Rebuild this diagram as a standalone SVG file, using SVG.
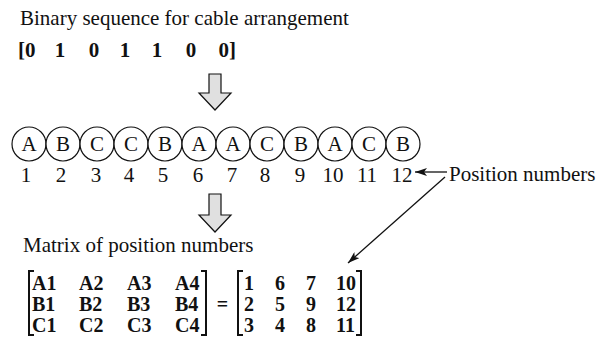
<svg xmlns="http://www.w3.org/2000/svg" width="610" height="337" viewBox="0 0 610 337">
<style>
text{font-family:"Liberation Serif","Times New Roman",serif;fill:#111}
.t{font-size:21px}
.b{font-size:21px;font-weight:bold}
.m{font-size:20px;font-weight:bold}
.c{text-anchor:middle}
.cir{fill:#fff;stroke:#111;stroke-width:1.2}
.big{fill:#e0e0e0;stroke:#111;stroke-width:1.2;stroke-linejoin:miter}
.br{fill:none;stroke:#111;stroke-width:2}
.ln{fill:none;stroke:#111;stroke-width:1.3}
</style>
<defs>
<marker id="ah" viewBox="0 0 12 8" refX="12" refY="4" markerWidth="12" markerHeight="8" markerUnits="userSpaceOnUse" orient="auto">
<path d="M0,0 L12,4 L0,8 L3,4 z" fill="#111"/>
</marker>
</defs>
<g id="title"><text class="t" x="20" y="25">Binary sequence for cable arrangement</text></g>
<g id="sequence">
<text class="b" x="18" y="57">[0</text>
<text class="b c" x="60" y="57">1</text>
<text class="b c" x="94" y="57">0</text>
<text class="b c" x="125" y="57">1</text>
<text class="b c" x="157" y="57">1</text>
<text class="b c" x="191" y="57">0</text>
<text class="b" x="218.5" y="57">0]</text>
</g>
<g id="arrow1"><path class="big" d="M209,74 H221 V93 H231 L215,110 L199,93 H209 Z"/></g>
<g id="cables">
<circle class="cir" cx="29" cy="144" r="17"/>
<circle class="cir" cx="63" cy="144" r="17"/>
<circle class="cir" cx="97" cy="144" r="17"/>
<circle class="cir" cx="131" cy="144" r="17"/>
<circle class="cir" cx="165" cy="144" r="17"/>
<circle class="cir" cx="199" cy="144" r="17"/>
<circle class="cir" cx="233" cy="144" r="17"/>
<circle class="cir" cx="267" cy="144" r="17"/>
<circle class="cir" cx="301" cy="144" r="17"/>
<circle class="cir" cx="335" cy="144" r="17"/>
<circle class="cir" cx="369" cy="144" r="17"/>
<circle class="cir" cx="403" cy="144" r="17"/>
<text class="t c" x="29" y="151">A</text>
<text class="t c" x="63" y="151">B</text>
<text class="t c" x="97" y="151">C</text>
<text class="t c" x="131" y="151">C</text>
<text class="t c" x="165" y="151">B</text>
<text class="t c" x="199" y="151">A</text>
<text class="t c" x="233" y="151">A</text>
<text class="t c" x="267" y="151">C</text>
<text class="t c" x="301" y="151">B</text>
<text class="t c" x="335" y="151">A</text>
<text class="t c" x="369" y="151">C</text>
<text class="t c" x="403" y="151">B</text>
</g>
<g id="positions">
<text class="t c" x="26" y="182">1</text>
<text class="t c" x="61" y="182">2</text>
<text class="t c" x="96" y="182">3</text>
<text class="t c" x="129" y="182">4</text>
<text class="t c" x="163" y="182">5</text>
<text class="t c" x="198" y="182">6</text>
<text class="t c" x="232" y="182">7</text>
<text class="t c" x="265" y="182">8</text>
<text class="t c" x="300" y="182">9</text>
<text class="t c" x="333" y="182">10</text>
<text class="t c" x="367" y="182">11</text>
<text class="t c" x="402" y="182">12</text>
</g>
<g id="label"><text class="t" x="449" y="181">Position numbers</text></g>
<g id="arrow2"><path class="big" d="M209,194 H221 V215 H231 L215,232 L199,215 H209 Z"/></g>
<g id="matrix-title"><text class="t" x="23" y="252">Matrix of position numbers</text></g>
<g id="matrix-left">
<path class="br" d="M34,271 H29 V335 H34"/>
<path class="br" d="M201,271 H206 V335 H201"/>
<text class="m" x="32" y="290">A1</text><text class="m" x="79" y="290">A2</text><text class="m" x="127" y="290">A3</text><text class="m" x="175" y="290">A4</text>
<text class="m" x="32" y="311">B1</text><text class="m" x="79" y="311">B2</text><text class="m" x="127" y="311">B3</text><text class="m" x="175" y="311">B4</text>
<text class="m" x="32" y="332">C1</text><text class="m" x="79" y="332">C2</text><text class="m" x="127" y="332">C3</text><text class="m" x="175" y="332">C4</text>
</g>
<g id="equals"><text class="m c" x="222.5" y="311">=</text></g>
<g id="matrix-right">
<path class="br" d="M243,271 H238 V335 H243"/>
<path class="br" d="M356,271 H361 V335 H356"/>
<text class="m" x="244" y="290">1</text><text class="m" x="275" y="290">6</text><text class="m" x="306" y="290">7</text><text class="m" x="336" y="290">10</text>
<text class="m" x="244" y="311">2</text><text class="m" x="275" y="311">5</text><text class="m" x="306" y="311">9</text><text class="m" x="336" y="311">12</text>
<text class="m" x="244" y="332">3</text><text class="m" x="275" y="332">4</text><text class="m" x="306" y="332">8</text><text class="m" x="336" y="332">11</text>
</g>
<g id="connectors">
<line class="ln" x1="447" y1="172" x2="415" y2="172" marker-end="url(#ah)"/>
<line class="ln" x1="445" y1="177" x2="348" y2="263" marker-end="url(#ah)"/>
</g>
</svg>
